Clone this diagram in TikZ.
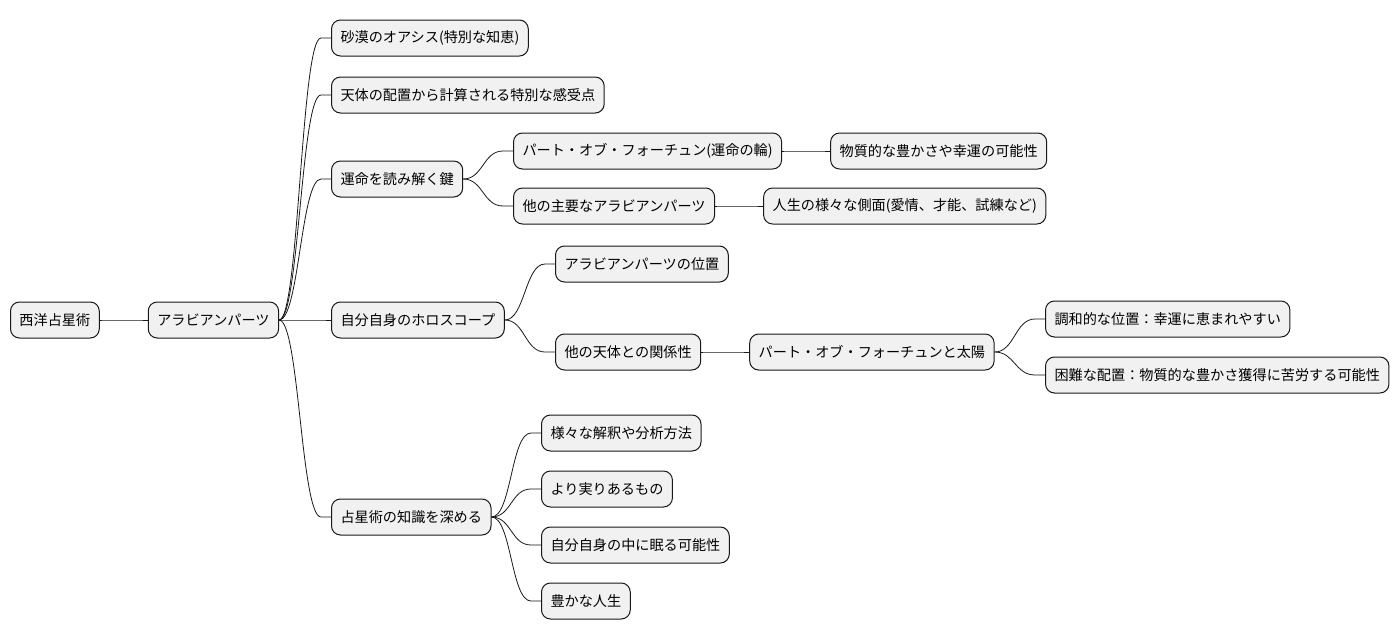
\documentclass[tikz,border=0pt]{standalone}
\usepackage{fontspec}
\newfontfamily\jpfont{Noto Sans CJK JP}
\usepackage{tikz}
\usetikzlibrary{positioning}
\definecolor{nodefill}{HTML}{F1F1F1}
\definecolor{nodeline}{HTML}{181818}

\begin{document}
\begin{tikzpicture}[
  x=1pt, y=-1pt,
  topic/.style={draw=nodeline, fill=nodefill, line width=1pt,
                rounded corners=9pt, minimum height=36pt,
                inner xsep=9pt, inner ysep=0pt, anchor=west,
                font=\jpfont\fontsize{14.15}{16}\selectfont},
  branch/.style={nodeline, line width=0.8pt,
                 to path={.. controls +(20,0) and +(-20,0) .. ([xshift=-10pt]\tikztotarget.west) -- (\tikztotarget.west)}},
]
\useasboundingbox (0,0) rectangle (1398,640);

% root and first level
\node[topic] (root) at (10,320) {西洋占星術};
\node[topic, right=48pt of root] (parts) {アラビアンパーツ};

\node[topic] (oasis)  at (331,38)  {砂漠のオアシス(特別な知恵)};
\node[topic] (point)  at (331,95)  {天体の配置から計算される特別な感受点};
\node[topic] (key)    at (331,179) {運命を読み解く鍵};
\node[topic] (chart)  at (331,320) {自分自身のホロスコープ};
\node[topic] (deepen) at (331,517) {占星術の知識を深める};

% under the key
\node[topic] (fortune) at (513,151) {パート・オブ・フォーチュン(運命の輪)};
\node[topic] (others)  at (513,206) {他の主要なアラビアンパーツ};
\node[topic, right=48pt of fortune] (wealth) {物質的な豊かさや幸運の可能性};
\node[topic, right=48pt of others] (aspects) {人生の様々な側面(愛情、才能、試練など)};

% under the chart
\node[topic] (place)    at (555,264) {アラビアンパーツの位置};
\node[topic] (relation) at (555,352) {他の天体との関係性};
\node[topic, right=48pt of relation] (sun) {パート・オブ・フォーチュンと太陽};
\node[topic] (harmony)  at (1045,319) {調和的な位置：幸運に恵まれやすい};
\node[topic] (hard)     at (1045,375) {困難な配置：物質的な豊かさ獲得に苦労する可能性};

% under deepening
\node[topic] (methods) at (541,433) {様々な解釈や分析方法};
\node[topic] (fruit)   at (541,489) {より実りあるもの};
\node[topic] (inner)   at (541,545) {自分自身の中に眠る可能性};
\node[topic] (life)    at (541,601) {豊かな人生};

\draw[branch] (root.east) to (parts);
\draw[branch] (parts.east) to (oasis);
\draw[branch] (parts.east) to (point);
\draw[branch] (parts.east) to (key);
\draw[branch] (parts.east) to (chart);
\draw[branch] (parts.east) to (deepen);
\draw[branch] (key.east) to (fortune);
\draw[branch] (key.east) to (others);
\draw[branch] (fortune.east) to (wealth);
\draw[branch] (others.east) to (aspects);
\draw[branch] (chart.east) to (place);
\draw[branch] (chart.east) to (relation);
\draw[branch] (relation.east) to (sun);
\draw[branch] (sun.east) to (harmony);
\draw[branch] (sun.east) to (hard);
\draw[branch] (deepen.east) to (methods);
\draw[branch] (deepen.east) to (fruit);
\draw[branch] (deepen.east) to (inner);
\draw[branch] (deepen.east) to (life);

\end{tikzpicture}
\end{document}
